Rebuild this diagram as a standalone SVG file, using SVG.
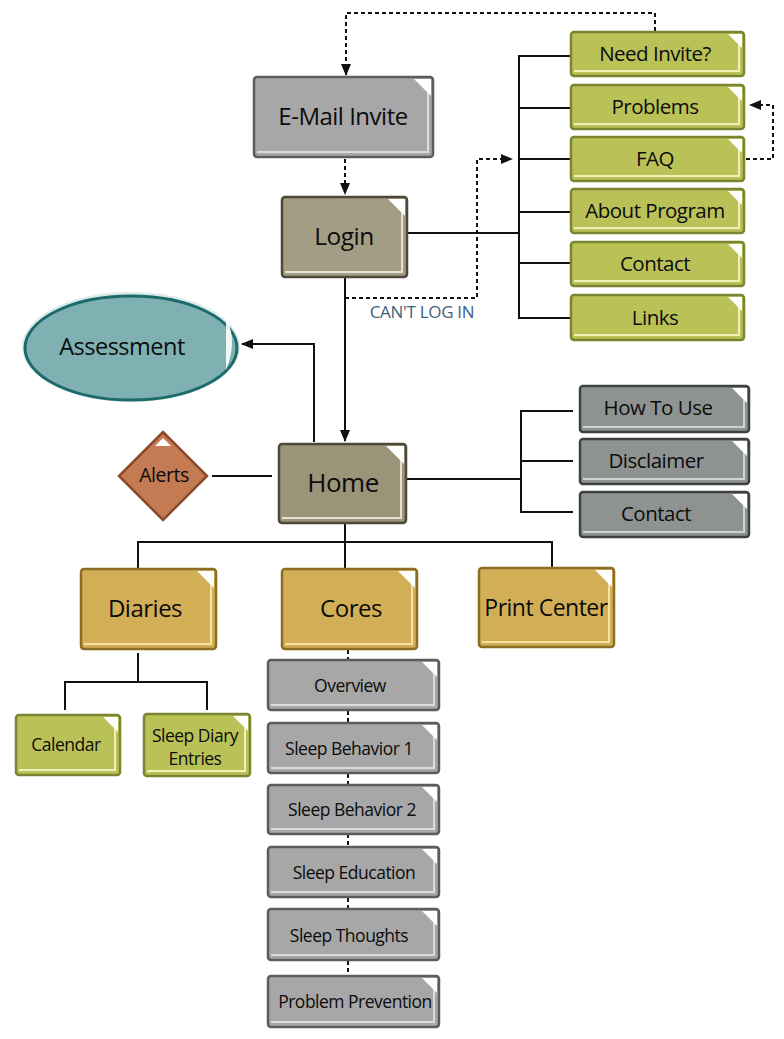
<svg xmlns="http://www.w3.org/2000/svg" width="784" height="1039" viewBox="0 0 784 1039">
<defs>
<marker id="ah" viewBox="0 0 12 10" refX="11" refY="5" markerWidth="12" markerHeight="10" markerUnits="userSpaceOnUse" orient="auto">
<path d="M0,0 L12,5 L0,10 z" fill="#111"/>
</marker>
</defs>
<style>
text{font-family:"Open Sans","Liberation Sans",sans-serif;fill:#0c0c0c;text-anchor:middle;letter-spacing:-0.5px}
.ln{fill:none;stroke:#111;stroke-width:2}
.dl{fill:none;stroke:#111;stroke-width:2;stroke-dasharray:4 3}
.fold{fill:#fff}
.hl{fill:none;stroke-width:2}
.gray rect{fill:#a7a7a7;stroke:#5c5c5c;stroke-width:2.5}
.gray .hl{stroke:#dcdcdc}
.taupe rect{fill:#a49d86;stroke:#4d4839;stroke-width:2.5}
.taupe .hl{stroke:#e6e2d2}
.green rect{fill:#bac257;stroke:#7b8430;stroke-width:2.5}
.green .hl{stroke:#eef2b8}
.dgray rect{fill:#8e9391;stroke:#3d4241;stroke-width:2.5}
.dgray .hl{stroke:#cfd3d2}
.gold rect{fill:#d2ae57;stroke:#8d6d23;stroke-width:2.5}
.gold .hl{stroke:#f6e0a6}
.big{font-size:24px}
.mid{font-size:20.5px}
.sm{font-size:17.5px}
</style>

<g id="connectors">
<path class="dl" d="M345,159 V194" marker-end="url(#ah)"/>
<path class="dl" d="M655,31 V13 H346 V75" marker-end="url(#ah)"/>
<path class="ln" d="M407,233 H519"/>
<path class="ln" d="M570,56 H519 V318 H570"/>
<path class="ln" d="M519,108 H570 M519,159 H570 M519,212 H570 M519,263 H570"/>
<path class="dl" d="M345,298 H477 V159 H512" marker-end="url(#ah)"/>
<path class="dl" d="M746,159 H773 V105 H750" marker-end="url(#ah)"/>
<path class="ln" d="M345,278 V441" marker-end="url(#ah)"/>
<path class="ln" d="M314,442 V344 H242" marker-end="url(#ah)"/>
<path class="ln" d="M212,476 H272"/>
<path class="ln" d="M406,479 H521"/>
<path class="ln" d="M573,411 H521 V512 H573 M521,461 H573"/>
<path class="ln" d="M345,524 V542 M138,568 V542 H552 V567 M345,542 V568"/>
<path class="ln" d="M138,653 V682 M65,710 V682 H207 V710"/>
<path class="dl" d="M348,650 V660 M348,711 V722 M348,774 V785 M348,834 V846 M348,898 V909 M348,961 V975"/>
</g>

<g id="email-invite" class="gray">
<rect x="254" y="77" width="179" height="80" rx="3"/>
<path class="hl" d="M428,80 V152 H257"/>
<path class="fold" d="M414,79 H431 V96 z"/>
<text x="343" y="125" class="big">E-Mail Invite</text>
</g>

<g id="login" class="taupe">
<rect x="282" y="197" width="125" height="80" rx="3"/>
<path class="hl" d="M402,200 V272 H285"/>
<path class="fold" d="M388,199 H405 V216 z"/>
<text x="344" y="245" font-size="24.5">Login</text>
</g>

<g id="need-invite" class="green">
<rect x="571" y="32" width="173" height="44" rx="3"/>
<path class="hl" d="M739,35 V71 H574"/>
<path class="fold" d="M728,34 H742 V48 z"/>
<text x="655" y="61" class="mid">Need  Invite?</text>
</g>
<g id="problems" class="green">
<rect x="571" y="85" width="173" height="44" rx="3"/>
<path class="hl" d="M739,88 V124 H574"/>
<path class="fold" d="M728,87 H742 V101 z"/>
<text x="655" y="114" class="mid">Problems</text>
</g>
<g id="faq" class="green">
<rect x="571" y="137" width="173" height="44" rx="3"/>
<path class="hl" d="M739,140 V176 H574"/>
<path class="fold" d="M728,139 H742 V153 z"/>
<text x="655" y="166" class="mid">FAQ</text>
</g>
<g id="about-program" class="green">
<rect x="571" y="189" width="173" height="44" rx="3"/>
<path class="hl" d="M739,192 V228 H574"/>
<path class="fold" d="M728,191 H742 V205 z"/>
<text x="655" y="218" class="mid">About Program</text>
</g>
<g id="contact-top" class="green">
<rect x="571" y="242" width="173" height="44" rx="3"/>
<path class="hl" d="M739,245 V281 H574"/>
<path class="fold" d="M728,244 H742 V258 z"/>
<text x="655" y="271" class="mid">Contact</text>
</g>
<g id="links" class="green">
<rect x="571" y="295" width="173" height="45" rx="3"/>
<path class="hl" d="M739,298 V335 H574"/>
<path class="fold" d="M728,297 H742 V311 z"/>
<text x="655" y="325" class="mid">Links</text>
</g>

<text id="cant-log-in" x="422" y="318" font-size="17" style="fill:#3f5f80;letter-spacing:-0.3px">CAN'T LOG IN</text>

<g id="assessment">
<ellipse cx="131" cy="347" rx="109" ry="55" fill="#cfe5e4" opacity="0.8"/>
<ellipse cx="131" cy="348" rx="106" ry="52" fill="#7fb1b3" stroke="#1d6a6b" stroke-width="3"/>
<path d="M226,318 Q238,340 226,370 z" fill="#fff" opacity="0.9"/>
<text x="122" y="355" font-size="23.5">Assessment</text>
</g>

<g id="alerts">
<path d="M163,432 L207,476 L163,520 L119,476 z" fill="#c47a52" stroke="#8c4a2a" stroke-width="2.5"/>
<path d="M155,446 L163,438 L171,446 z" fill="#fff"/>
<text x="164" y="482" font-size="19.5">Alerts</text>
</g>

<g id="home" class="taupe">
<rect x="279" y="444" width="127" height="79" rx="3" style="fill:#9b9478"/>
<path class="hl" d="M401,447 V518 H282"/>
<path class="fold" d="M386,446 H404 V464 z"/>
<text x="343" y="492" font-size="26">Home</text>
</g>

<g id="how-to-use" class="dgray">
<rect x="580" y="386" width="169" height="46" rx="3"/>
<path class="hl" d="M744,389 V427 H583"/>
<path class="fold" d="M732,388 H747 V403 z"/>
<text x="658" y="415" class="mid">How To Use</text>
</g>
<g id="disclaimer" class="dgray">
<rect x="580" y="439" width="169" height="45" rx="3"/>
<path class="hl" d="M744,442 V479 H583"/>
<path class="fold" d="M732,441 H747 V456 z"/>
<text x="656" y="468" class="mid">Disclaimer</text>
</g>
<g id="contact-right" class="dgray">
<rect x="580" y="492" width="169" height="45" rx="3"/>
<path class="hl" d="M744,495 V532 H583"/>
<path class="fold" d="M732,494 H747 V509 z"/>
<text x="656" y="521" class="mid">Contact</text>
</g>

<g id="diaries" class="gold">
<rect x="81" y="569" width="135" height="80" rx="3"/>
<path class="hl" d="M211,572 V644 H84"/>
<path class="fold" d="M197,571 H214 V588 z"/>
<text x="145" y="617" class="big">Diaries</text>
</g>
<g id="cores" class="gold">
<rect x="282" y="569" width="135" height="80" rx="3"/>
<path class="hl" d="M412,572 V644 H285"/>
<path class="fold" d="M398,571 H415 V588 z"/>
<text x="351" y="617" class="big">Cores</text>
</g>
<g id="print-center" class="gold">
<rect x="479" y="568" width="135" height="79" rx="3"/>
<path class="hl" d="M609,571 V642 H482"/>
<path class="fold" d="M595,570 H612 V587 z"/>
<text x="546" y="616" font-size="23">Print Center</text>
</g>

<g id="calendar" class="green">
<rect x="16" y="715" width="104" height="60" rx="3"/>
<path class="hl" d="M115,718 V770 H19"/>
<path class="fold" d="M103,717 H118 V732 z"/>
<text x="66" y="751" class="sm">Calendar</text>
</g>
<g id="sleep-diary-entries" class="green">
<rect x="144" y="714" width="106" height="62" rx="3"/>
<path class="hl" d="M245,717 V771 H147"/>
<path class="fold" d="M233,716 H248 V731 z"/>
<text x="195" y="742" class="sm">Sleep Diary</text>
<text x="195" y="765" class="sm">Entries</text>
</g>

<g id="overview" class="gray">
<rect x="268" y="660" width="171" height="50" rx="3"/>
<path class="hl" d="M434,663 V705 H271"/>
<path class="fold" d="M422,662 H437 V677 z"/>
<text x="350" y="692" class="sm">Overview</text>
</g>
<g id="sleep-behavior-1" class="gray">
<rect x="268" y="723" width="171" height="50" rx="3"/>
<path class="hl" d="M434,726 V768 H271"/>
<path class="fold" d="M422,725 H437 V740 z"/>
<text x="349" y="755" class="sm">Sleep Behavior 1</text>
</g>
<g id="sleep-behavior-2" class="gray">
<rect x="268" y="785" width="171" height="49" rx="3"/>
<path class="hl" d="M434,788 V829 H271"/>
<path class="fold" d="M422,787 H437 V802 z"/>
<text x="352" y="816" class="sm">Sleep Behavior 2</text>
</g>
<g id="sleep-education" class="gray">
<rect x="268" y="847" width="171" height="50" rx="3"/>
<path class="hl" d="M434,850 V892 H271"/>
<path class="fold" d="M422,849 H437 V864 z"/>
<text x="354" y="879" class="sm">Sleep Education</text>
</g>
<g id="sleep-thoughts" class="gray">
<rect x="268" y="909" width="171" height="51" rx="3"/>
<path class="hl" d="M434,912 V955 H271"/>
<path class="fold" d="M422,911 H437 V926 z"/>
<text x="349" y="942" class="sm">Sleep Thoughts</text>
</g>
<g id="problem-prevention" class="gray">
<rect x="268" y="976" width="171" height="51" rx="3"/>
<path class="hl" d="M434,979 V1022 H271"/>
<path class="fold" d="M422,978 H437 V993 z"/>
<text x="355" y="1008" class="sm">Problem Prevention</text>
</g>
</svg>
